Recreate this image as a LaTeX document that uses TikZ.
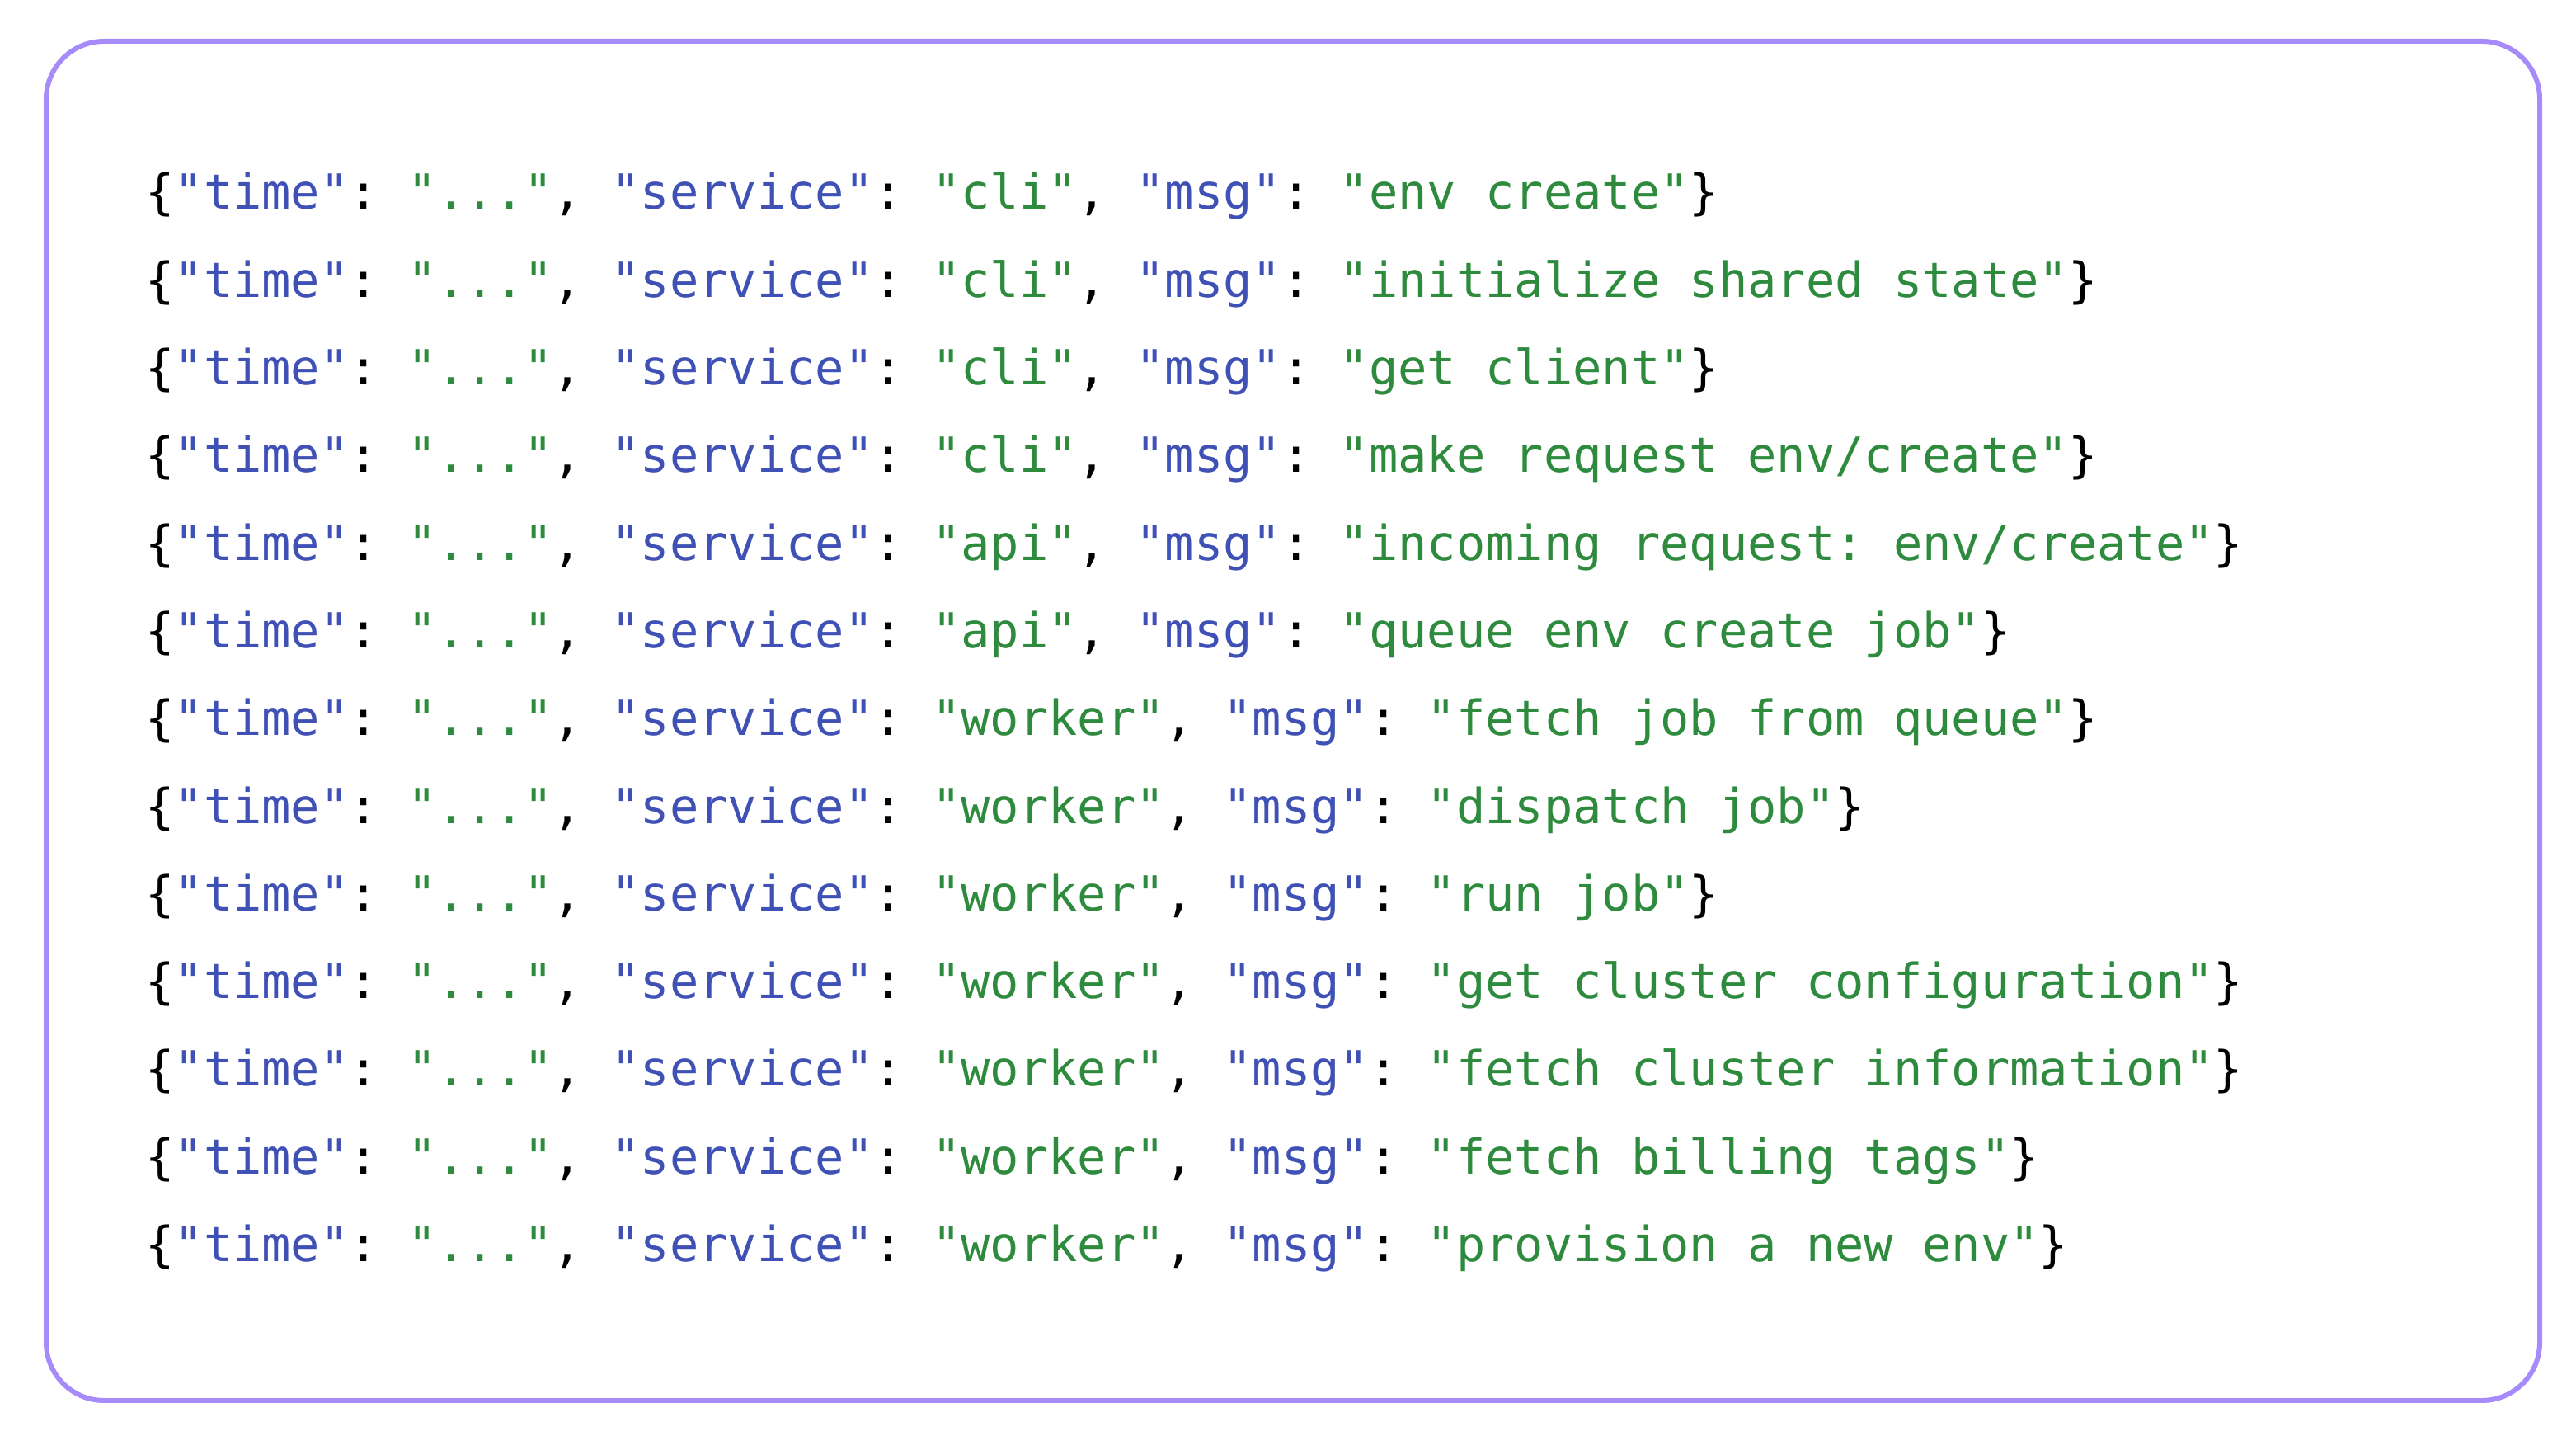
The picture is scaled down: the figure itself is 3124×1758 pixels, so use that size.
\documentclass[tikz,border=0pt]{standalone}
\usepackage{fontspec}
\setmonofont{DejaVu Sans Mono}
\usepackage{xcolor}
\definecolor{logframe}{RGB}{167,139,250}
\definecolor{logkey}{RGB}{63,81,181}
\definecolor{logstr}{RGB}{46,139,62}
\newcommand{\lkey}[1]{\textcolor{logkey}{"#1"}}
\newcommand{\lstr}[1]{\textcolor{logstr}{"#1"}}

\begin{document}
\begin{tikzpicture}[x=0.02cm,y=0.02cm]
    % Define styles
    \tikzset{logline/.style={anchor=base west, inner sep=0pt, font=\ttfamily\fontsize{33.4}{40}\selectfont}}
    \useasboundingbox (0,0) rectangle (3124,1758);
    % Frame
    \draw[logframe, line width=6*0.567pt, rounded corners=40] (56,60) rectangle (3080,1708);
    % Log lines
    \foreach \svc/\msg [count=\i] in {cli/env create, cli/initialize shared state, cli/get client,
        cli/{make request env/create}, api/{incoming request: env/create}, api/queue env create job,
        worker/fetch job from queue, worker/dispatch job, worker/run job,
        worker/get cluster configuration, worker/fetch cluster information,
        worker/fetch billing tags, worker/provision a new env}
        \node[logline] (line\i) at (176,{1504-(\i-1)*106.3})
            {\{\lkey{time}: \lstr{...}, \lkey{service}: \lstr{\svc}, \lkey{msg}: \lstr{\msg}\}};
\end{tikzpicture}
\end{document}
